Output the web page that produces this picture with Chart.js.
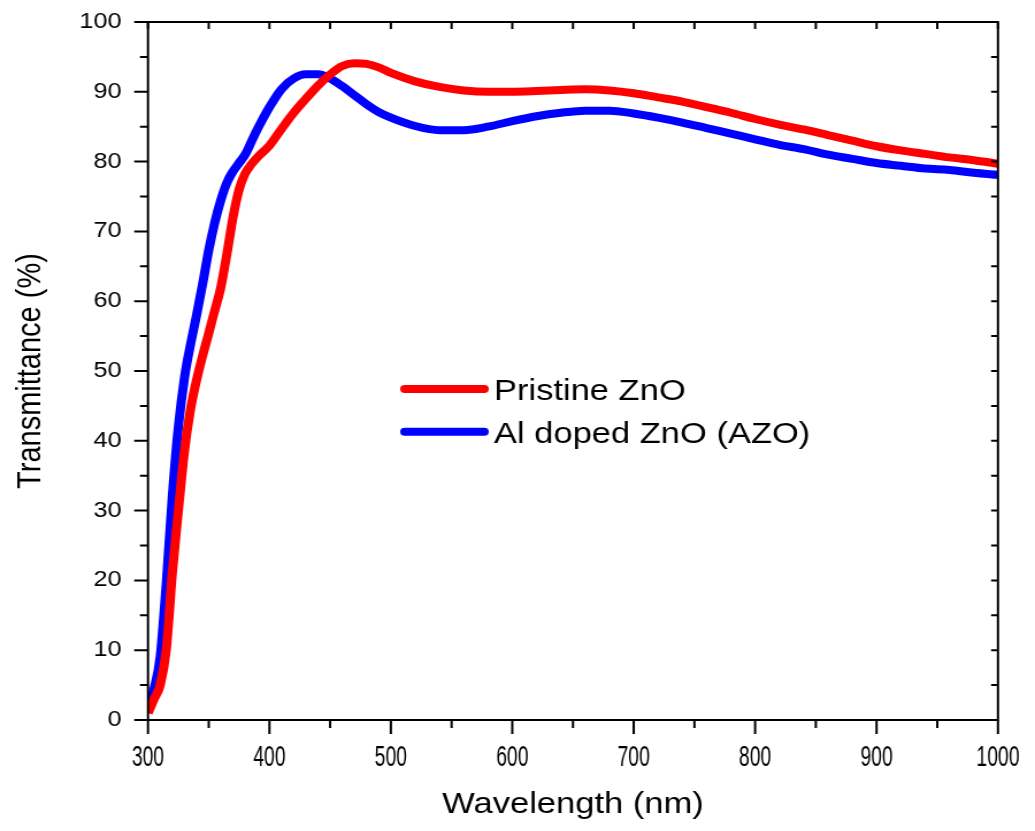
<!DOCTYPE html>
<html>
<head>
<meta charset="utf-8">
<script src="https://cdn.jsdelivr.net/npm/chart.js@4.4.0/dist/chart.umd.min.js"></script>
<style>
  html, body { margin: 0; padding: 0; background: #fff; overflow: hidden; }
  /* the figure is drawn narrow and widened a little, like the exported plot */
  #wrap { width: 900px; height: 831px; transform: scaleX(1.15); transform-origin: 0 0; }
</style>
</head>
<body>
<div id="wrap"><canvas id="chart" width="900" height="831"></canvas></div>
<script>
// Wavelength grid (nm)
const wavelengths = [
    300, 305, 310, 315, 320, 325, 330, 335, 340, 345, 350, 355, 360, 365, 370, 375,
    380, 385, 390, 400, 410, 420, 430, 440, 450, 460, 470, 480, 490, 500, 520, 540,
    560, 580, 600, 620, 640, 660, 680, 700, 720, 740, 760, 780, 800, 820, 840, 860,
    880, 900, 920, 940, 960, 980, 1000
];

// Transmittance (%) of the undoped film
const pristineZnO = [
    1.0, 3.0, 5.0, 10.0, 21.0, 30.0, 38.5, 44.5, 48.7, 52.2, 55.4, 58.7, 62.0, 66.8, 72.0, 76.0,
    78.3, 79.6, 80.6, 82.3, 84.7, 87.0, 89.0, 90.9, 92.5, 93.7, 94.1, 94.0, 93.5, 92.7, 91.5, 90.7,
    90.2, 90.0, 90.0, 90.1, 90.25, 90.35, 90.2, 89.8, 89.2, 88.6, 87.8, 87.0, 86.1, 85.3, 84.6, 83.8,
    83.0, 82.2, 81.6, 81.1, 80.6, 80.2, 79.7
];

// Transmittance (%) of the Al doped film
const azo = [
    1.5, 4.5, 9.0, 19.5, 32.0, 42.0, 49.0, 53.8, 58.0, 62.5, 67.3, 71.3, 74.5, 77.0, 78.6, 79.8,
    81.0, 82.8, 84.6, 87.8, 90.4, 91.9, 92.5, 92.5, 91.9, 90.8, 89.5, 88.2, 87.1, 86.3, 85.1, 84.5,
    84.5, 85.0, 85.8, 86.5, 87.0, 87.3, 87.3, 86.9, 86.3, 85.6, 84.8, 84.0, 83.2, 82.4, 81.8, 81.0,
    80.4, 79.8, 79.4, 79.0, 78.8, 78.4, 78.1
];

const seriesNames = ['Pristine ZnO', 'Al doped ZnO (AZO)'];
const seriesColors = ['#ff0000', '#0000ff'];

const xRange = [300, 1000];
const yRange = [0, 100];
const xTickLabels = ['300', '400', '500', '600', '700', '800', '900', '1000'];

const toPoints = vals => wavelengths.map((w, i) => ({ x: w, y: vals[i] }));

// Frame with ticks on all four sides: outward on bottom/left, inward on top/right
const framePlugin = {
    id: 'frame',
    afterDraw(chart) {
        const { ctx, chartArea: a, scales } = chart;
        const xs = scales.x, ys = scales.y;
        ctx.save();
        ctx.strokeStyle = '#000';
        ctx.lineWidth = 2;
        ctx.strokeRect(a.left, a.top, a.right - a.left, a.bottom - a.top);

        ctx.beginPath();
        for (let v = xRange[0]; v <= xRange[1]; v += 50) {
            const px = xs.getPixelForValue(v);
            const major = v % 100 === 0;
            ctx.moveTo(px, a.bottom);
            ctx.lineTo(px, a.bottom + (major ? 14 : 8));
            ctx.moveTo(px, a.top);
            ctx.lineTo(px, a.top + 7);
        }
        for (let v = yRange[0]; v <= yRange[1]; v += 5) {
            const py = ys.getPixelForValue(v);
            const major = v % 10 === 0;
            ctx.moveTo(a.left, py);
            ctx.lineTo(a.left - (major ? 12 : 7), py);
            ctx.moveTo(a.right, py);
            ctx.lineTo(a.right - 6, py);
        }
        ctx.stroke();

        // condensed wavelength labels under the major ticks
        ctx.fillStyle = '#000';
        ctx.font = '30px "Liberation Sans", Arial, sans-serif';
        ctx.textAlign = 'center';
        ctx.textBaseline = 'alphabetic';
        xTickLabels.forEach(t => {
            const px = xs.getPixelForValue(Number(t));
            ctx.save();
            ctx.translate(px, a.bottom + 46);
            ctx.scale(0.56, 1);
            ctx.fillText(t, 0, 0);
            ctx.restore();
        });
        ctx.restore();
    }
};

// Legend drawn inside the plot area
const legendPlugin = {
    id: 'insideLegend',
    afterDatasetsDraw(chart) {
        const { ctx } = chart;
        ctx.save();
        ctx.lineCap = 'round';
        ctx.lineWidth = 8;
        ctx.font = '30px "Liberation Sans", Arial, sans-serif';
        ctx.fillStyle = '#000';
        ctx.textBaseline = 'alphabetic';
        chart.data.datasets.forEach((ds, i) => {
            const y = 389 + i * 42.7;
            ctx.strokeStyle = ds.borderColor;
            ctx.beginPath();
            ctx.moveTo(352, y);
            ctx.lineTo(421, y);
            ctx.stroke();
            ctx.fillText(ds.label, 429.5, y + 11);
        });
        ctx.restore();
    }
};

new Chart(document.getElementById('chart'), {
    type: 'line',
    data: {
        datasets: [
            {
                label: seriesNames[0],
                data: toPoints(pristineZnO),
                borderColor: seriesColors[0],
                borderWidth: 8,
                pointRadius: 0,
                cubicInterpolationMode: 'monotone',
                fill: false
            },
            {
                label: seriesNames[1],
                data: toPoints(azo),
                borderColor: seriesColors[1],
                borderWidth: 8,
                pointRadius: 0,
                cubicInterpolationMode: 'monotone',
                fill: false
            }
        ]
    },
    options: {
        responsive: false,
        animation: false,
        events: [],
        layout: { padding: { top: 22, right: 32.2, left: 0, bottom: 0 } },
        plugins: {
            legend: { display: false },
            tooltip: { enabled: false }
        },
        scales: {
            x: {
                type: 'linear',
                min: xRange[0],
                max: xRange[1],
                grid: { display: false, drawTicks: false },
                border: { display: false },
                ticks: { display: false, stepSize: 100 },
                title: {
                    display: true,
                    text: 'Wavelength (nm)',
                    color: '#000',
                    padding: { top: 0, bottom: 8 },
                    font: { family: '"Liberation Sans", Arial, sans-serif', size: 30 }
                },
                afterFit(scale) {
                    scale.height = 111;
                    scale.paddingLeft = 0;
                    scale.paddingRight = 0;
                }
            },
            y: {
                min: yRange[0],
                max: yRange[1],
                grid: { display: false, drawTicks: false },
                border: { display: false },
                ticks: {
                    stepSize: 10,
                    padding: 23,
                    color: '#000',
                    font: { family: '"Liberation Sans", Arial, sans-serif', size: 22 }
                },
                title: {
                    display: true,
                    text: 'Transmittance (%)',
                    color: '#000',
                    padding: { top: 10, bottom: 0 },
                    font: { family: '"Liberation Sans", Arial, sans-serif', size: 29 }
                },
                afterFit(scale) {
                    scale.width = 128.7;
                    scale.paddingTop = 0;
                    scale.paddingBottom = 0;
                }
            }
        }
    },
    plugins: [framePlugin, legendPlugin]
});
</script>
</body>
</html>
